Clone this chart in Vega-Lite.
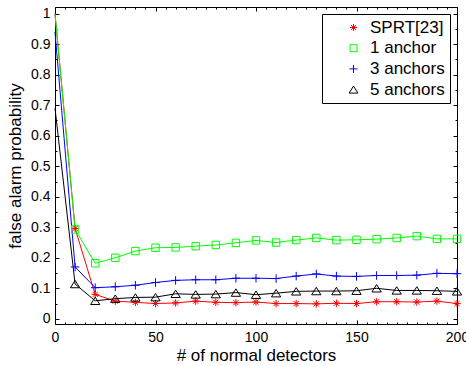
{
  "$schema": "https://vega.github.io/schema/vega-lite/v6.json",
  "width": 402,
  "height": 317,
  "autosize": {"type": "none"},
  "padding": {"left": 55, "top": 7, "right": 9, "bottom": 42},
  "background": "white",
  "config": {
    "view": {"stroke": "black", "strokeWidth": 1},
    "font": "Liberation Sans",
    "axis": {
      "grid": false,
      "domain": false,
      "tickColor": "black",
      "tickWidth": 1,
      "labelColor": "black",
      "titleColor": "black",
      "labelFont": "Liberation Sans",
      "titleFont": "Liberation Sans",
      "labelFontSize": 14,
      "titleFontSize": 17,
      "titleFontWeight": "normal"
    }
  },
  "data": {
    "values": [
      {"x": 0, "y": 1.0, "s": "SPRT[23]"},
      {"x": 10, "y": 0.296, "s": "SPRT[23]"},
      {"x": 20, "y": 0.08, "s": "SPRT[23]"},
      {"x": 30, "y": 0.058, "s": "SPRT[23]"},
      {"x": 40, "y": 0.054, "s": "SPRT[23]"},
      {"x": 50, "y": 0.05, "s": "SPRT[23]"},
      {"x": 60, "y": 0.052, "s": "SPRT[23]"},
      {"x": 70, "y": 0.058, "s": "SPRT[23]"},
      {"x": 80, "y": 0.054, "s": "SPRT[23]"},
      {"x": 90, "y": 0.053, "s": "SPRT[23]"},
      {"x": 100, "y": 0.055, "s": "SPRT[23]"},
      {"x": 110, "y": 0.05, "s": "SPRT[23]"},
      {"x": 120, "y": 0.05, "s": "SPRT[23]"},
      {"x": 130, "y": 0.049, "s": "SPRT[23]"},
      {"x": 140, "y": 0.051, "s": "SPRT[23]"},
      {"x": 150, "y": 0.05, "s": "SPRT[23]"},
      {"x": 160, "y": 0.056, "s": "SPRT[23]"},
      {"x": 170, "y": 0.056, "s": "SPRT[23]"},
      {"x": 180, "y": 0.055, "s": "SPRT[23]"},
      {"x": 190, "y": 0.058, "s": "SPRT[23]"},
      {"x": 200, "y": 0.05, "s": "SPRT[23]"},
      {"x": 0, "y": 1.0, "s": "1 anchor"},
      {"x": 10, "y": 0.293, "s": "1 anchor"},
      {"x": 20, "y": 0.182, "s": "1 anchor"},
      {"x": 30, "y": 0.2, "s": "1 anchor"},
      {"x": 40, "y": 0.222, "s": "1 anchor"},
      {"x": 50, "y": 0.233, "s": "1 anchor"},
      {"x": 60, "y": 0.234, "s": "1 anchor"},
      {"x": 70, "y": 0.238, "s": "1 anchor"},
      {"x": 80, "y": 0.242, "s": "1 anchor"},
      {"x": 90, "y": 0.249, "s": "1 anchor"},
      {"x": 100, "y": 0.257, "s": "1 anchor"},
      {"x": 110, "y": 0.25, "s": "1 anchor"},
      {"x": 120, "y": 0.258, "s": "1 anchor"},
      {"x": 130, "y": 0.265, "s": "1 anchor"},
      {"x": 140, "y": 0.258, "s": "1 anchor"},
      {"x": 150, "y": 0.259, "s": "1 anchor"},
      {"x": 160, "y": 0.261, "s": "1 anchor"},
      {"x": 170, "y": 0.265, "s": "1 anchor"},
      {"x": 180, "y": 0.271, "s": "1 anchor"},
      {"x": 190, "y": 0.262, "s": "1 anchor"},
      {"x": 200, "y": 0.262, "s": "1 anchor"},
      {"x": 0, "y": 0.94, "s": "3 anchors"},
      {"x": 10, "y": 0.17, "s": "3 anchors"},
      {"x": 20, "y": 0.102, "s": "3 anchors"},
      {"x": 30, "y": 0.105, "s": "3 anchors"},
      {"x": 40, "y": 0.11, "s": "3 anchors"},
      {"x": 50, "y": 0.119, "s": "3 anchors"},
      {"x": 60, "y": 0.126, "s": "3 anchors"},
      {"x": 70, "y": 0.128, "s": "3 anchors"},
      {"x": 80, "y": 0.128, "s": "3 anchors"},
      {"x": 90, "y": 0.133, "s": "3 anchors"},
      {"x": 100, "y": 0.133, "s": "3 anchors"},
      {"x": 110, "y": 0.132, "s": "3 anchors"},
      {"x": 120, "y": 0.14, "s": "3 anchors"},
      {"x": 130, "y": 0.147, "s": "3 anchors"},
      {"x": 140, "y": 0.14, "s": "3 anchors"},
      {"x": 150, "y": 0.139, "s": "3 anchors"},
      {"x": 160, "y": 0.142, "s": "3 anchors"},
      {"x": 170, "y": 0.142, "s": "3 anchors"},
      {"x": 180, "y": 0.143, "s": "3 anchors"},
      {"x": 190, "y": 0.149, "s": "3 anchors"},
      {"x": 200, "y": 0.148, "s": "3 anchors"},
      {"x": 0, "y": 0.69, "s": "5 anchors"},
      {"x": 10, "y": 0.114, "s": "5 anchors"},
      {"x": 20, "y": 0.059, "s": "5 anchors"},
      {"x": 30, "y": 0.066, "s": "5 anchors"},
      {"x": 40, "y": 0.07, "s": "5 anchors"},
      {"x": 50, "y": 0.071, "s": "5 anchors"},
      {"x": 60, "y": 0.082, "s": "5 anchors"},
      {"x": 70, "y": 0.08, "s": "5 anchors"},
      {"x": 80, "y": 0.081, "s": "5 anchors"},
      {"x": 90, "y": 0.086, "s": "5 anchors"},
      {"x": 100, "y": 0.079, "s": "5 anchors"},
      {"x": 110, "y": 0.084, "s": "5 anchors"},
      {"x": 120, "y": 0.09, "s": "5 anchors"},
      {"x": 130, "y": 0.091, "s": "5 anchors"},
      {"x": 140, "y": 0.091, "s": "5 anchors"},
      {"x": 150, "y": 0.092, "s": "5 anchors"},
      {"x": 160, "y": 0.1, "s": "5 anchors"},
      {"x": 170, "y": 0.093, "s": "5 anchors"},
      {"x": 180, "y": 0.093, "s": "5 anchors"},
      {"x": 190, "y": 0.092, "s": "5 anchors"},
      {"x": 200, "y": 0.09, "s": "5 anchors"}
    ]
  },
  "layer": [
    {
      "mark": {"type": "line", "strokeWidth": 1, "clip": false},
      "encoding": {
        "x": {
          "field": "x", "type": "quantitative",
          "scale": {"domain": [0, 200], "nice": false, "zero": false},
          "axis": {
            "orient": "bottom",
            "title": "# of normal detectors",
            "titlePadding": 3,
            "values": [0, 50, 100, 150, 200],
            "format": "d",
            "ticks": false,
            "labelPadding": 6,
            "labelFlush": false,
            "labelOverlap": false
          }
        },
        "y": {
          "field": "y", "type": "quantitative",
          "scale": {"domain": [-0.017, 1.022], "nice": false, "zero": false},
          "axis": {
            "orient": "left",
            "title": "false alarm probability",
            "titlePadding": 6,
            "values": [0, 0.1, 0.2, 0.3, 0.4, 0.5, 0.6, 0.7, 0.8, 0.9, 1],
            "format": "~g",
            "ticks": false,
            "labelPadding": 5,
            "labelFlush": false,
            "labelOverlap": false
          }
        },
        "color": {
          "field": "s", "type": "nominal",
          "scale": {"domain": ["SPRT[23]", "1 anchor", "3 anchors", "5 anchors"], "range": ["#ff0000", "#00ff00", "#0000ff", "#000000"]},
          "legend": {
            "title": null, "orient": "top-right", "offset": 7,
            "strokeColor": "black", "fillColor": "white", "padding": 5,
            "labelFont": "Liberation Sans", "labelFontSize": 17, "labelColor": "black",
            "symbolSize": 49, "symbolStrokeWidth": 1, "symbolOffset": 18, "labelOffset": 8, "rowPadding": 2.7
          }
        }
      }
    },
    {
      "transform": [{"filter": "datum.x > 0 && (datum.s === 'SPRT[23]' || datum.s === '1 anchor')"}],
      "mark": {"type": "point", "filled": false, "strokeWidth": 1, "opacity": 1, "size": 55, "clip": false},
      "encoding": {
        "x": {
          "field": "x", "type": "quantitative",
          "axis": {
            "orient": "top", "offset": -317, "title": null, "labels": false,
            "values": [0,5,10,15,20,25,30,35,40,45,50,55,60,65,70,75,80,85,90,95,100,105,110,115,120,125,130,135,140,145,150,155,160,165,170,175,180,185,190,195,200],
            "tickSize": {"condition": {"test": "datum.value % 50 === 0", "value": 4}, "value": 2}
          }
        },
        "y": {
          "field": "y", "type": "quantitative",
          "axis": {
            "orient": "right", "offset": -402, "title": null, "labels": false,
            "values": [0,0.05,0.1,0.15,0.2,0.25,0.3,0.35,0.4,0.45,0.5,0.55,0.6,0.65,0.7,0.75,0.8,0.85,0.9,0.95,1],
            "tickSize": {"condition": {"test": "round(datum.value*100) % 10 === 0", "value": 4}, "value": 2}
          }
        },
        "color": {
          "field": "s", "type": "nominal",
          "legend": {
            "title": null, "orient": "top-right", "offset": 7,
            "strokeColor": "black", "fillColor": "white", "padding": 5,
            "labelFont": "Liberation Sans", "labelFontSize": 17, "labelColor": "black",
            "symbolSize": 49, "symbolStrokeWidth": 1, "symbolOffset": 18, "labelOffset": 8, "rowPadding": 2.7
          }
        },
        "shape": {
          "field": "s", "type": "nominal",
          "scale": {"domain": ["SPRT[23]", "1 anchor", "3 anchors", "5 anchors"], "range": ["M-1,0H1M0,-1V1M-0.7,-0.7L0.7,0.7M-0.7,0.7L0.7,-0.7", "square", "M-1.15,0H1.15M0,-1.15V1.15", "M-1.25,1L0,-1L1.25,1Z"]},
          "legend": null
        }
      }
    },
    {
      "transform": [{"filter": "datum.x > 0 && (datum.s === '3 anchors' || datum.s === '5 anchors')"}],
      "mark": {"type": "point", "filled": false, "strokeWidth": 1, "opacity": 1, "size": 55, "clip": false},
      "encoding": {
        "x": {
          "field": "x", "type": "quantitative",
          "axis": {
            "orient": "bottom", "offset": -317, "title": null, "labels": false,
            "values": [0,5,10,15,20,25,30,35,40,45,50,55,60,65,70,75,80,85,90,95,100,105,110,115,120,125,130,135,140,145,150,155,160,165,170,175,180,185,190,195,200],
            "tickSize": {"condition": {"test": "datum.value % 50 === 0", "value": 4}, "value": 2}
          }
        },
        "y": {
          "field": "y", "type": "quantitative",
          "axis": {
            "orient": "left", "offset": -402, "title": null, "labels": false,
            "values": [0,0.05,0.1,0.15,0.2,0.25,0.3,0.35,0.4,0.45,0.5,0.55,0.6,0.65,0.7,0.75,0.8,0.85,0.9,0.95,1],
            "tickSize": {"condition": {"test": "round(datum.value*100) % 10 === 0", "value": 4}, "value": 2}
          }
        },
        "color": {
          "field": "s", "type": "nominal",
          "legend": {
            "title": null, "orient": "top-right", "offset": 7,
            "strokeColor": "black", "fillColor": "white", "padding": 5,
            "labelFont": "Liberation Sans", "labelFontSize": 17, "labelColor": "black",
            "symbolSize": 49, "symbolStrokeWidth": 1, "symbolOffset": 18, "labelOffset": 8, "rowPadding": 2.7
          }
        },
        "shape": {
          "field": "s", "type": "nominal",
          "legend": null
        }
      }
    }
  ],
  "resolve": {"axis": {"x": "independent", "y": "independent"}}
}
